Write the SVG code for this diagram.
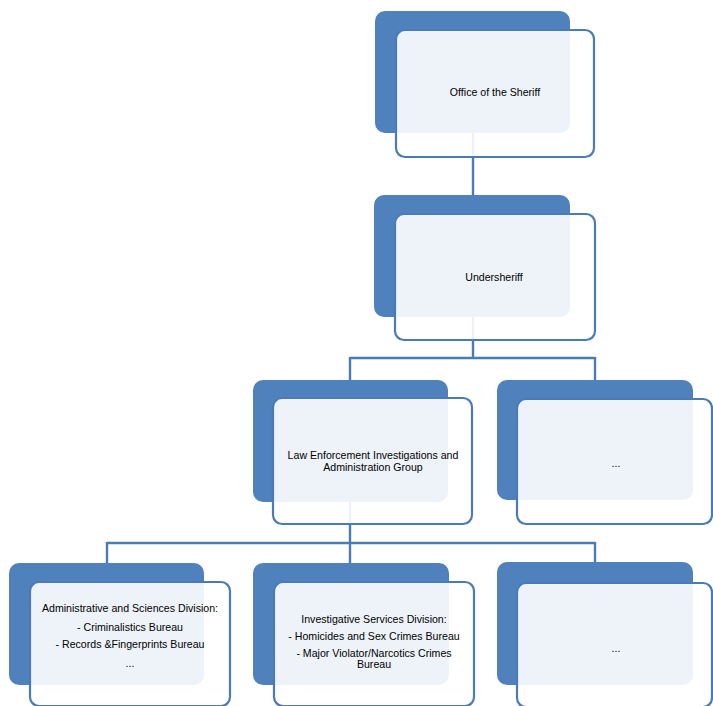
<svg xmlns="http://www.w3.org/2000/svg" width="713" height="706" viewBox="0 0 713 706">
<style>
.back{fill:#4F81BD;}
.front{fill:#ffffff;fill-opacity:0.9;stroke:#4A7BB7;stroke-width:2.2;}
.conn{fill:none;stroke:#4A7BB7;stroke-width:2.4;}
text{font-family:"Liberation Sans",Arial,sans-serif;font-size:10.6px;fill:#000;text-anchor:middle;}
</style>
<rect width="713" height="706" fill="#ffffff"/>
<g id="connectors">
<path class="conn" d="M473,133 V195"/>
<path class="conn" d="M473,317 V358 M350,358 H595 M350,357 V380 M595,357 V380"/>
<path class="conn" d="M350,502 V543 M107,543 H595 M107,542 V563 M350,542 V563 M595,542 V563"/>
</g>
<g id="node-sheriff">
<rect class="back" x="375" y="11" width="195" height="122" rx="10"/>
<rect class="front" x="396" y="30" width="198" height="127" rx="9"/>
<text x="495" y="96">Office of the Sheriff</text>
</g>
<g id="node-undersheriff">
<rect class="back" x="374" y="195" width="196" height="122" rx="10"/>
<rect class="front" x="395" y="214" width="200" height="126" rx="9"/>
<text x="494" y="281">Undersheriff</text>
</g>
<g id="node-lei">
<rect class="back" x="253" y="380" width="195" height="122" rx="10"/>
<rect class="front" x="273" y="398" width="199" height="126" rx="9"/>
<text x="373" y="459">Law Enforcement Investigations and</text>
<text x="373" y="471">Administration Group</text>
</g>
<g id="node-other1">
<rect class="back" x="497" y="380" width="196" height="120" rx="10"/>
<rect class="front" x="517" y="399" width="195" height="125" rx="9"/>
<text x="616" y="467">...</text>
</g>
<g id="node-admin">
<rect class="back" x="9" y="563" width="195" height="122" rx="10"/>
<rect class="front" x="30" y="582" width="200" height="124" rx="9"/>
<text x="130" y="612">Administrative and Sciences Division:</text>
<text x="130" y="631">- Criminalistics Bureau</text>
<text x="130" y="648">- Records &amp;Fingerprints Bureau</text>
<text x="130" y="667">...</text>
</g>
<g id="node-isd">
<rect class="back" x="253" y="563" width="196" height="122" rx="10"/>
<rect class="front" x="274" y="582" width="200" height="124" rx="9"/>
<text x="374" y="623">Investigative Services Division:</text>
<text x="374" y="640">- Homicides and Sex Crimes Bureau</text>
<text x="374" y="657">- Major Violator/Narcotics Crimes</text>
<text x="374" y="668">Bureau</text>
</g>
<g id="node-other2">
<rect class="back" x="497" y="562" width="196" height="123" rx="10"/>
<rect class="front" x="517" y="583" width="195" height="124" rx="9"/>
<text x="616" y="652">...</text>
</g>
</svg>
